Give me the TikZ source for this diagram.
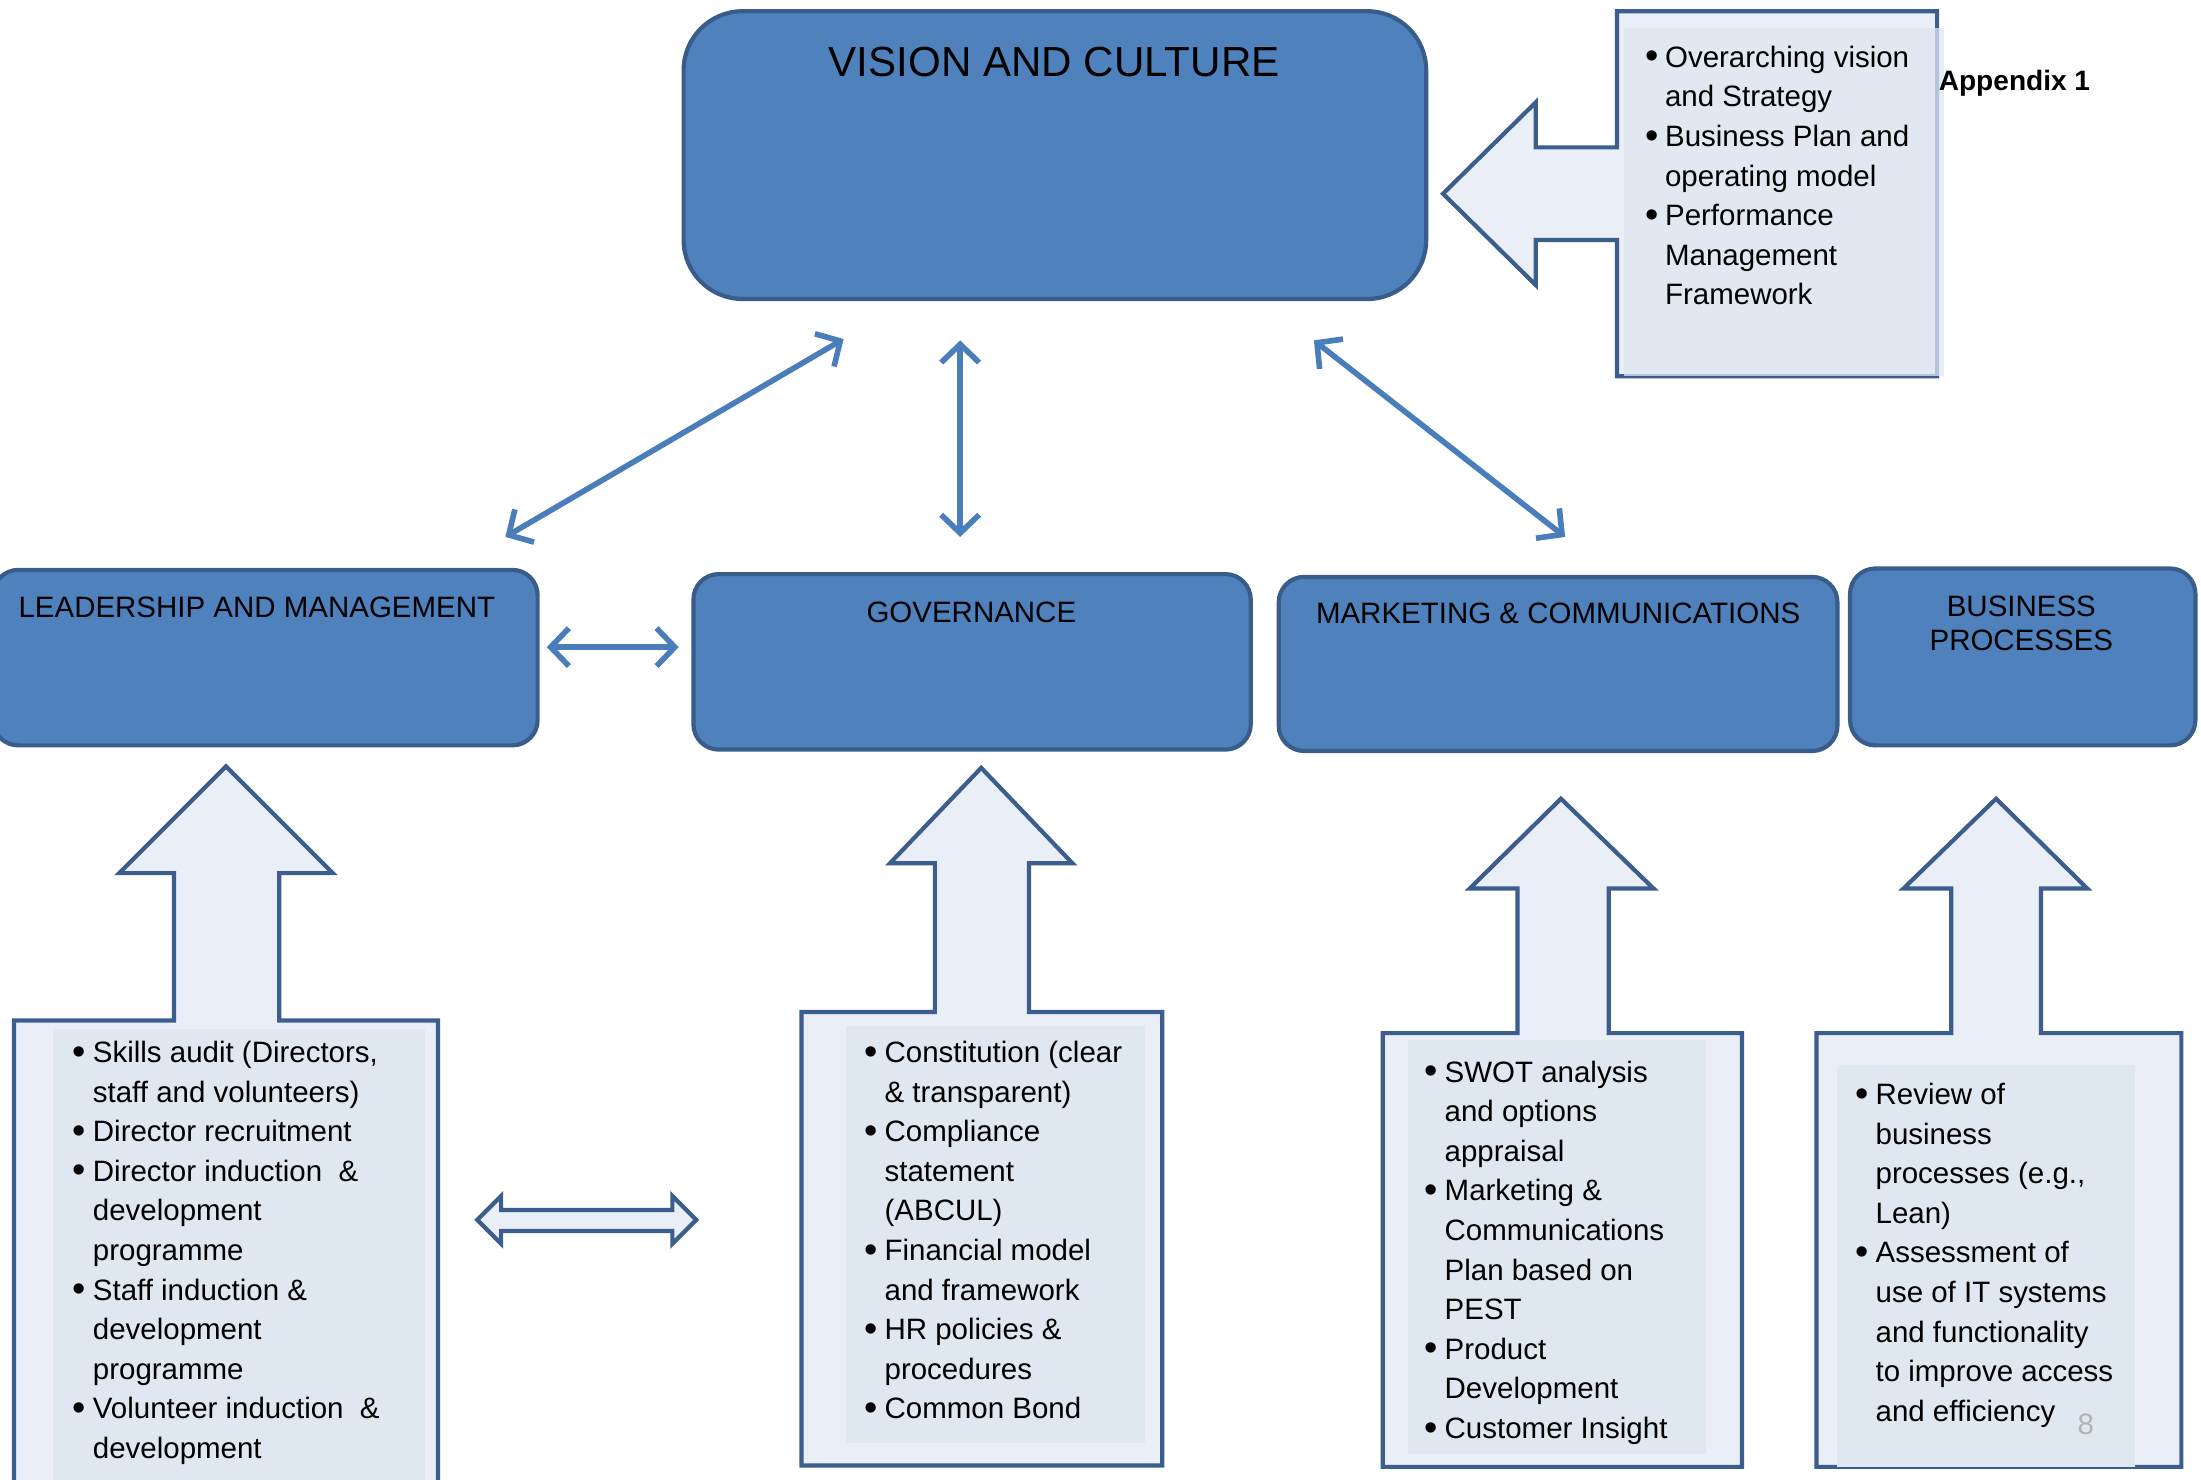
\documentclass[tikz,border=0pt]{standalone}
\usepackage{fontspec}
\setmainfont{Liberation Sans}
\usetikzlibrary{arrows.meta,calc}
\definecolor{boxfill}{HTML}{4F81BD}
\definecolor{boxedge}{HTML}{385D8A}
\definecolor{conncol}{HTML}{4A7EBB}
\definecolor{callfill}{HTML}{E9EEF7}
\definecolor{callinner}{HTML}{DFE7F1}
\definecolor{calledge}{HTML}{3B5E8E}
\newcommand{\bigbul}{\makebox[7pt][c]{\raisebox{-1.2pt}{\fontsize{27}{28}\selectfont •}}}
\begin{document}
\begin{tikzpicture}[x=1pt,y=-1pt,
 mainbox/.style={draw=boxedge, fill=boxfill, line width=3pt, rounded corners=18pt, inner sep=0pt},
 lbl/.style={font=\fontsize{21}{24}\selectfont, inner sep=0pt, align=center},
 callout/.style={draw=calledge, fill=callfill, line width=3pt, line join=miter},
 innerrect/.style={fill=callinner, draw=none},
 bullets/.style={font=\fontsize{21}{28.2}\selectfont, inner sep=0pt, anchor=north west},
 conn/.style={draw=conncol, line width=4pt, {Straight Barb[length=13pt,width=27pt]}-{Straight Barb[length=13pt,width=27pt]}}
]
\useasboundingbox (0,0) rectangle (1568,1054);
\clip (0,0) rectangle (1568,1054);

% main boxes
\node[mainbox, minimum width=529pt, minimum height=205pt, rounded corners=42pt] (vision) at (751.5,110.5) {};
\node[mainbox, minimum width=388pt, minimum height=125pt] (lead) at (189,468.5) {};
\node[mainbox, minimum width=397pt, minimum height=125pt] (gov) at (692.5,471.5) {};
\node[mainbox, minimum width=398pt, minimum height=124pt] (mkt) at (1110,473) {};
\node[mainbox, minimum width=246pt, minimum height=126pt] (bus) at (1441,468) {};

\node[lbl, font=\fontsize{30}{34}\selectfont] (visionlbl) at (751,44) {VISION AND CULTURE};
\node[lbl] (leadlbl) at (183,433) {LEADERSHIP AND MANAGEMENT};
\node[lbl] (govlbl) at (692,436) {GOVERNANCE};
\node[lbl] (mktlbl) at (1110,437) {MARKETING \& COMMUNICATIONS};
\node[lbl] (buslbl) at (1440,444) {BUSINESS\\PROCESSES};

% vision callout
\draw[callout] (1152,8) -- (1380,8) -- (1380,268) -- (1152,268) -- (1152,171) -- (1094,171) -- (1094,203) -- (1028,138) -- (1094,73) -- (1094,105) -- (1152,105) -- cycle;
\fill[callinner, opacity=0.75] (1157,20) rectangle (1385,268);
\node[bullets] (visiontxt) at (1173,28) {\begin{tabular}{@{}l@{\hspace{6pt}}l@{}}
\bigbul & Overarching vision\\
  & and Strategy\\
\bigbul & Business Plan and\\
  & operating model\\
\bigbul & Performance\\
  & Management\\
  & Framework
\end{tabular}};

% leadership callout
\draw[callout] (10,1080) -- (10,727) -- (124,727) -- (124,622) -- (85,622) -- (161,546) -- (237,622) -- (199,622) -- (199,727) -- (312,727) -- (312,1080) -- cycle;
\fill[innerrect] (38,733) rectangle (303,1060);
\node[bullets] (leadtxt) at (53,737) {\begin{tabular}{@{}l@{\hspace{6pt}}l@{}}
\bigbul & Skills audit (Directors,\\
  & staff and volunteers)\\
\bigbul & Director recruitment\\
\bigbul & Director induction\ \ \&\\
  & development\\
  & programme\\
\bigbul & Staff induction \&\\
  & development\\
  & programme\\
\bigbul & Volunteer induction\ \ \&\\
  & development
\end{tabular}};

% governance callout
\draw[callout] (571,1044) -- (571,721) -- (666,721) -- (666,615) -- (634,615) -- (699,547) -- (764,615) -- (733,615) -- (733,721) -- (828,721) -- (828,1044) -- cycle;
\fill[innerrect] (603,731) rectangle (816,1028);
\node[bullets] (govtxt) at (617,737) {\begin{tabular}{@{}l@{\hspace{6pt}}l@{}}
\bigbul & Constitution (clear\\
  & \& transparent)\\
\bigbul & Compliance\\
  & statement\\
  & (ABCUL)\\
\bigbul & Financial model\\
  & and framework\\
\bigbul & HR policies \&\\
  & procedures\\
\bigbul & Common Bond
\end{tabular}};

% marketing callout
\draw[callout] (985,1045) -- (985,736) -- (1081,736) -- (1081,633) -- (1047,633) -- (1112,569) -- (1178,633) -- (1146,633) -- (1146,736) -- (1241,736) -- (1241,1045) -- cycle;
\fill[innerrect] (1003,741) rectangle (1215,1036);
\node[bullets] (mkttxt) at (1016,751) {\begin{tabular}{@{}l@{\hspace{6pt}}l@{}}
\bigbul & SWOT analysis\\
  & and options\\
  & appraisal\\
\bigbul & Marketing \&\\
  & Communications\\
  & Plan based on\\
  & PEST\\
\bigbul & Product\\
  & Development\\
\bigbul & Customer Insight
\end{tabular}};

% business callout
\draw[callout] (1294,1045) -- (1294,736) -- (1390,736) -- (1390,633) -- (1356,633) -- (1422,569) -- (1487,633) -- (1454,633) -- (1454,736) -- (1554,736) -- (1554,1045) -- cycle;
\fill[innerrect] (1309,759) rectangle (1521,1045);
\node[bullets] (bustxt) at (1323,767) {\begin{tabular}{@{}l@{\hspace{6pt}}l@{}}
\bigbul & Review of\\
  & business\\
  & processes (e.g.,\\
  & Lean)\\
\bigbul & Assessment of\\
  & use of IT systems\\
  & and functionality\\
  & to improve access\\
  & and efficiency
\end{tabular}};

% bottom double block arrow
\draw[callout] (340,869) -- (357,852) -- (357,862) -- (479,862) -- (479,852) -- (496,869) -- (479,886) -- (479,877) -- (357,877) -- (357,886) -- cycle;

% connectors
\draw[conn] ($(vision.south)+(-150.5,27)$) -- ($(lead.north)+(171,-22)$);
\draw[conn] ($(vision.south)+(-67.5,28)$) -- ($(gov.north)+(-8.5,-25)$);
\draw[conn] ($(vision.south)+(184.5,28)$) -- ($(mkt.north)+(5,-27)$);
\draw[conn] ($(lead.east)+(5,-7.5)$) -- ($(gov.west)+(-9,-10.5)$);

\node[font=\bfseries\fontsize{20}{24}\selectfont, anchor=west, inner sep=0pt] (appendix) at (1381,59) {Appendix 1};
\node[font=\fontsize{21}{24}\selectfont, text=black!30, inner sep=0pt] (pagenum) at (1486,1015) {8};
\end{tikzpicture}
\end{document}
